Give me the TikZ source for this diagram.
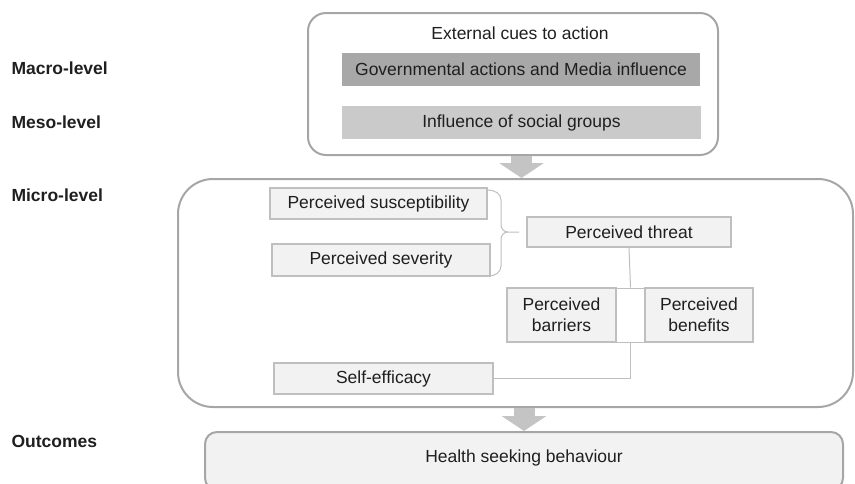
\documentclass[tikz,border=0pt]{standalone}
\usepackage{fontspec}
\setmainfont{Liberation Sans}
\usetikzlibrary{arrows.meta}

\definecolor{txtgray}{HTML}{1F1F1F}
\definecolor{framegray}{HTML}{A6A6A6}
\definecolor{boxgray}{HTML}{BFBFBF}
\definecolor{boxfill}{HTML}{F2F2F2}
\definecolor{govfill}{HTML}{A8A8A8}
\definecolor{socfill}{HTML}{CACACA}
\definecolor{arrowgray}{HTML}{C4C4C4}

\begin{document}
\begin{tikzpicture}[x=1pt,y=-1pt,
    every node/.style={text=txtgray, font=\fontsize{17.5}{21}\selectfont},
    level/.style={anchor=west, font=\bfseries\fontsize{17.5}{21}\selectfont},
    frame/.style={draw=framegray, line width=2pt, rounded corners=#1, inner sep=0pt},
    band/.style={inner sep=0pt, minimum height=33pt},
    factor/.style={draw=boxgray, fill=boxfill, line width=2pt, inner sep=0pt, align=center},
    link/.style={draw=boxgray, line width=1pt},
    flow/.style={draw=arrowgray, line width=21pt, -{Triangle[width=44pt,length=15pt]}}]

      \useasboundingbox (0,0) rectangle (855,483);
      \clip (0,0) rectangle (855,483);

      %%% levels %%%
      \node (macro) at (8,68) [level] {Macro-level};
      \node (meso) at (8,122) [level] {Meso-level};
      \node (microlbl) at (8,195) [level] {Micro-level};
      \node (outlbl) at (8,441) [level] {Outcomes};

      %%% external cues %%%
      \node (cues) at (513,84) [frame=18pt, minimum width=410pt, minimum height=142pt] {};
      \node (cuestitle) at (520,33) {External cues to action};
      \node (gov) at (521,69.5) [band, fill=govfill, minimum width=358pt]
        {Governmental actions and Media influence};
      \node (social) at (521.5,122.5) [band, fill=socfill, minimum width=359pt]
        {Influence of social groups};

      %%% micro level %%%
      \node (micro) at (515.5,293) [frame=35pt, minimum width=675pt, minimum height=228pt] {};
      \node (susc) at (378.5,203.5) [factor, minimum width=217pt, minimum height=31pt]
        {Perceived susceptibility};
      \node (sev) at (381,260) [factor, minimum width=218pt, minimum height=32pt]
        {Perceived severity};
      \node (threat) at (629,232) [factor, minimum width=204pt, minimum height=30pt]
        {Perceived threat};
      \node (gap) at (630.5,315) [link, fill=white, inner sep=0pt, minimum width=29pt, minimum height=54pt] {};
      \node (barriers) at (561.5,315) [factor, minimum width=109pt, minimum height=54pt]
        {Perceived\\barriers};
      \node (benefits) at (699,315) [factor, minimum width=108pt, minimum height=54pt]
        {Perceived\\benefits};
      \node (self) at (383.5,378.5) [factor, minimum width=219pt, minimum height=31pt]
        {Self-efficacy};

      % brace
      \draw[link] 
      (488,190) to [out=0,in=90] (501,200) -- (501,225)
      to [out=-90,in=180] (508,232) -- ([xshift=-7pt]threat.west)
      (508,232) to [out=180,in=90] (501,239) -- (501,266)
      to [out=-90,in=0] (489,276);

      \draw[link] (threat.south) -- (gap.north);
      \draw[link] (gap.south) |- (self.east);

      %%% outcomes %%%
      \node (outcome) at (524,461) [frame=12pt, fill=boxfill, minimum width=638pt, minimum height=58pt] {};
      \node (health) at (524,458) {Health seeking behaviour};

      % block arrows
      \draw[flow] (cues.south -| social.south) -- (social.south |- micro.north);
      \draw[flow] (micro.south -| outcome.north) -- (outcome.north);

    \end{tikzpicture}
\end{document}
